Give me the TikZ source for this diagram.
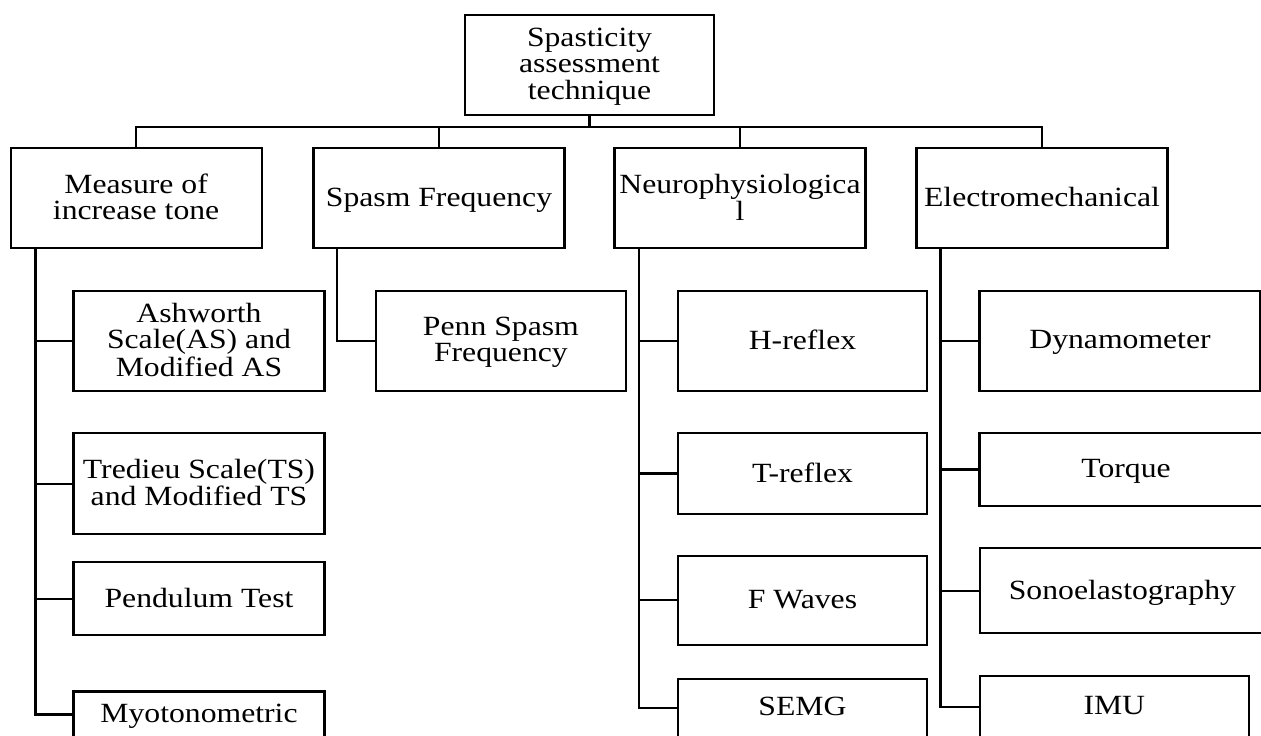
\documentclass[tikz,border=0pt]{standalone}
\usepackage{fontspec}
\setmainfont{Liberation Serif}
\usepackage{graphicx}
\newcommand\boxlbl[1]{\raisebox{-2.6pt}[\height][\depth]{\scalebox{1.14}[1]{\begin{tabular}{@{}c@{}}#1\end{tabular}}}}
\begin{document}
\begin{tikzpicture}[x=1pt,y=-1pt,
  box/.style={draw, line width=2.2pt, inner sep=0pt, font=\fontsize{27.8}{25.5}\selectfont},
  conn/.style={line width=2.2pt}]
\useasboundingbox (0,0) rectangle (1261,736);
\clip (0,0) rectangle (1261,736);
% root
\node[box, minimum width=249pt, minimum height=100pt, font=\fontsize{27.8}{25.2}\selectfont] (root) at (589.5,65) {\boxlbl{Spasticity\\assessment\\technique}};
% level 1
\node[box, minimum width=251pt, minimum height=100pt] (m1) at (136.1,198.3) {\boxlbl{Measure of\\increase tone}};
\node[box, minimum width=251pt, minimum height=100pt] (m2) at (439,198.3) {\boxlbl{Spasm Frequency}};
\node[box, minimum width=251pt, minimum height=100pt] (m3) at (740,198.3) {\boxlbl{Neurophysiologica\\l}};
\node[box, minimum width=251pt, minimum height=100pt] (m4) at (1042,198.3) {\boxlbl{Electromechanical}};
% level 2: measure of increase tone
\node[box, minimum width=251pt, minimum height=100pt] (a1) at (199,340.7) {\boxlbl{Ashworth\\Scale(AS) and\\Modified AS}};
\node[box, minimum width=251pt, minimum height=101pt] (a2) at (199,483.8) {\boxlbl{Tredieu Scale(TS)\\and Modified TS}};
\node[box, minimum width=251pt, minimum height=73pt] (a3) at (199,598.8) {\boxlbl{Pendulum Test}};
\node[box, minimum width=251pt, minimum height=46pt] (a4) at (199,714.5) {\boxlbl{Myotonometric}};
% spasm frequency
\node[box, minimum width=249.7pt, minimum height=100pt] (b1) at (500.9,340.7) {\boxlbl{Penn Spasm\\Frequency}};
% neurophysiological
\node[box, minimum width=249.7pt, minimum height=100pt] (c1) at (802.5,340.7) {\boxlbl{H-reflex}};
\node[box, minimum width=249.7pt, minimum height=80.4pt] (c2) at (802.5,473.5) {\boxlbl{T-reflex}};
\node[box, minimum width=249.7pt, minimum height=88.7pt] (c3) at (802.5,600.3) {\boxlbl{F Waves}};
\node[box, minimum width=249.7pt, minimum height=58pt] (c4) at (802.5,708) {\boxlbl{SEMG}};
% electromechanical
\node[box, minimum width=281pt, minimum height=100pt] (d1) at (1120,340.7) {\boxlbl{Dynamometer}};
\node[box, minimum width=293pt, minimum height=72.4pt] (d2) at (1126,469.5) {\boxlbl{Torque}};
\node[box, minimum width=285.6pt, minimum height=85pt] (d3) at (1122.4,590.8) {\boxlbl{Sonoelastography}};
\node[box, minimum width=269.4pt, minimum height=62pt] (d4) at (1114.3,707) {\boxlbl{IMU}};
% bus
\coordinate (bus) at (589.5,126.7);
\draw[conn] (root.south) -- (root.south |- bus);
\draw[conn] (m1.north) |- (bus) -| (m4.north);
\draw[conn] (m2.north) -- (m2.north |- bus);
\draw[conn] (m3.north) -- (m3.north |- bus);
% trunks
\coordinate (t1) at ([xshift=26pt]m1.south west);
\coordinate (t2) at ([xshift=24.5pt]m2.south west);
\coordinate (t3) at ([xshift=25.7pt]m3.south west);
\coordinate (t4) at ([xshift=25pt]m4.south west);
\draw[conn] (t1) |- (a1.west);
\draw[conn] (t1) |- (a2.west);
\draw[conn] (t1) |- (a3.west);
\draw[conn] (t1) |- (a4.west);
\draw[conn] (t2) |- (b1.west);
\draw[conn] (t3) |- (c1.west);
\draw[conn] (t3) |- (c2.west);
\draw[conn] (t3) |- (c3.west);
\draw[conn] (t3) |- (c4.west);
\draw[conn] (t4) |- (d1.west);
\draw[conn] (t4) |- (d2.west);
\draw[conn] (t4) |- (d3.west);
\draw[conn] (t4) |- (d4.west);
\end{tikzpicture}
\end{document}
